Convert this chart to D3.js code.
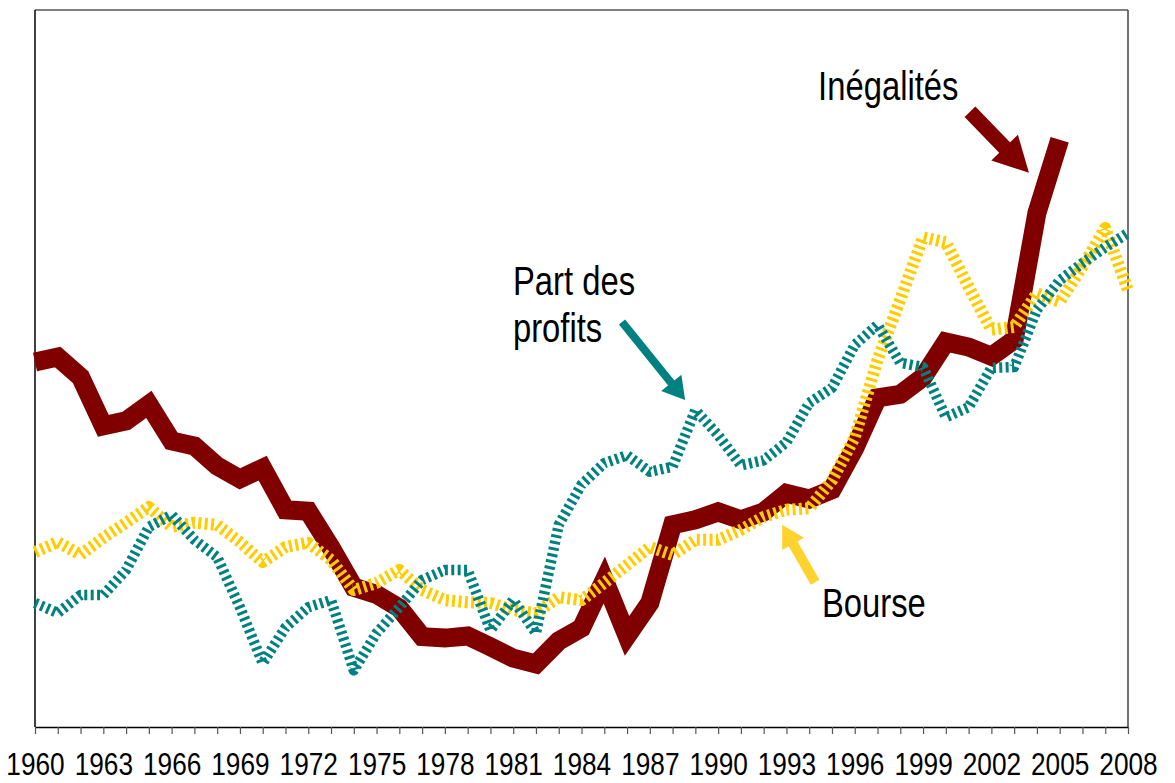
<!DOCTYPE html>
<html>
<head>
<meta charset="utf-8">
<script src="https://cdn.jsdelivr.net/npm/d3@7"></script>
<style>
    body { margin: 0; background: #fff; }
    #chart { width: 1175px; height: 783px; }
    text { font-family: "Liberation Sans", Arial, sans-serif; fill: #000; }
    .axis text { font-size: 32px; }
    .label { font-size: 40px; }
</style>
</head>
<body>
<div id="chart"></div>
<script>

// years on the x axis, one value per year
const years = d3.range(1960, 2009);
const labelYears = [1960, 1963, 1966, 1969, 1972, 1975, 1978, 1981, 1984, 1987, 1990, 1993, 1996, 1999, 2002, 2005, 2008];

// Inégalités (1960 - 2005), index
const inegalites = [50.9, 51.6, 48.8, 42.0, 42.7, 45.0, 39.9, 39.2, 36.4, 34.6,
    36.1, 30.3, 30.1, 25.0, 19.5, 18.5, 16.6, 12.6, 12.4, 12.7,
    11.2, 9.6, 8.8, 12.0, 13.8, 20.5, 12.7, 17.3, 28.2, 28.9,
    30.0, 28.9, 30.0, 32.6, 31.8, 33.1, 38.9, 45.9, 46.4, 48.8,
    53.7, 53.0, 51.7, 54.0, 71.7, 81.9];

// Part des profits (1960 - 2008)
const partProfits = [17.3, 15.9, 18.4, 18.4, 21.9, 27.9, 29.6, 26.1, 23.7, 16.7,
    8.9, 13.9, 16.7, 17.7, 7.9, 13.1, 16.7, 20.5, 21.9, 21.9,
    13.5, 17.7, 13.1, 28.2, 33.8, 36.8, 37.9, 35.6, 36.3, 44.2,
    40.7, 36.5, 37.2, 39.7, 45.2, 47.3, 53.3, 56.1, 50.8, 50.2,
    43.2, 44.6, 50.1, 50.2, 58.2, 62.3, 64.7, 66.9, 68.9];

// Bourse (1960 - 2008)
const bourse = [24.4, 25.8, 24.0, 26.4, 28.5, 30.7, 27.9, 28.5, 28.2, 25.8,
    23.0, 25.1, 25.7, 23.3, 19.1, 20.1, 21.9, 19.1, 17.7, 17.4,
    17.3, 16.3, 15.9, 18.1, 17.7, 20.1, 22.6, 25.1, 24.0, 26.1,
    26.1, 27.5, 29.3, 30.3, 30.5, 34.4, 40.4, 51.2, 59.6, 68.3,
    67.6, 61.4, 55.4, 55.8, 60.5, 59.3, 64.2, 69.6, 60.9];

/**
    SVG + SCALES
*/
const width = 1175;
const height = 783;
const margin = {top: 10, left: 35, right: 47, bottom: 56};
const narrow = 0.82; // squeeze Liberation Sans into a narrow face

const svg = d3.select("#chart")
    .append("svg")
    .attr("width", width)
    .attr("height", height);

const xScale = d3.scaleLinear()
    .domain([1960, 2008])
    .range([margin.left, width - margin.right]);

const yScale = d3.scaleLinear()
    .domain([0, 100])
    .range([height - margin.bottom, margin.top]);

// plot frame: grey top, dark right, black left
svg.append("line")
    .attr("x1", margin.left).attr("x2", width - margin.right)
    .attr("y1", margin.top).attr("y2", margin.top)
    .attr("stroke", "#808080").attr("stroke-width", 2);
svg.append("line")
    .attr("x1", width - margin.right).attr("x2", width - margin.right)
    .attr("y1", margin.top).attr("y2", height - margin.bottom)
    .attr("stroke", "#444").attr("stroke-width", 1.5);
svg.append("line")
    .attr("x1", margin.left).attr("x2", margin.left)
    .attr("y1", margin.top).attr("y2", height - margin.bottom)
    .attr("stroke", "#000").attr("stroke-width", 1.5);

/**
    X AXIS
*/
const xAxis = svg.append("g")
    .attr("class", "axis")
    .attr("transform", `translate(0,${height - margin.bottom})`)
    .call(d3.axisBottom(xScale)
        .tickValues(years)
        .tickSize(7)
        .tickSizeOuter(0)
        .tickPadding(18)
        .tickFormat(d => labelYears.includes(d) ? d : ""));

xAxis.select(".domain").attr("stroke", "#000").attr("stroke-width", 1.5);
xAxis.selectAll(".tick line").attr("stroke", "#555").attr("stroke-width", 1.2);
xAxis.selectAll(".tick text")
    .attr("fill", "#000")
    .attr("transform", `scale(${narrow},1)`);

/**
    LINES
*/
const line = d3.line()
    .x((d, i) => xScale(years[i]))
    .y(d => yScale(d));

svg.append("path")
    .datum(inegalites)
    .attr("d", line)
    .attr("fill", "none")
    .attr("stroke", "#800000")
    .attr("stroke-width", 19)
    .attr("stroke-linejoin", "miter");

svg.append("path")
    .datum(bourse)
    .attr("d", line)
    .attr("fill", "none")
    .attr("stroke", "#FFCC00")
    .attr("stroke-width", 12)
    .attr("stroke-dasharray", "3,3.4")
    .attr("stroke-linejoin", "round");

svg.append("path")
    .datum(partProfits)
    .attr("d", line)
    .attr("fill", "none")
    .attr("stroke", "#008080")
    .attr("stroke-width", 10.5)
    .attr("stroke-dasharray", "3,3.4")
    .attr("stroke-linejoin", "round");

/**
    ANNOTATIONS: arrows + labels, placed in data units
*/
function arrow(from, to, color, shaftW, headL, headW) {
    const x1 = xScale(from[0]), y1 = yScale(from[1]);
    const x2 = xScale(to[0]), y2 = yScale(to[1]);
    const len = Math.hypot(x2 - x1, y2 - y1);
    const ux = (x2 - x1) / len, uy = (y2 - y1) / len;
    const bx = x2 - ux * headL, by = y2 - uy * headL;
    svg.append("line")
        .attr("x1", x1).attr("y1", y1)
        .attr("x2", bx + ux * 1).attr("y2", by + uy * 1)
        .attr("stroke", color)
        .attr("stroke-width", shaftW);
    svg.append("path")
        .attr("d", `M${x2},${y2}L${bx - uy * headW / 2},${by + ux * headW / 2}L${bx + uy * headW / 2},${by - ux * headW / 2}Z`)
        .attr("fill", color);
}

arrow([2001.06, 85.8], [2003.65, 77.3], "#800000", 15, 35, 37);
arrow([1985.78, 56.5], [1988.55, 45.6], "#008080", 8, 22, 26);
arrow([1994.26, 20.2], [1992.81, 28.2], "#FFD22E", 10, 22, 25);

function label(txt, year, value) {
    svg.append("text").attr("class", "label")
        .attr("transform", `translate(${xScale(year)},${yScale(value)}) scale(${narrow},1)`)
        .text(txt);
}

label("Inégalités", 1994.39, 87.4);
label("Part des", 1980.99, 60.3);
label("profits", 1980.99, 53.7);
label("Bourse", 1994.56, 15.3);

</script>
</body>
</html>
